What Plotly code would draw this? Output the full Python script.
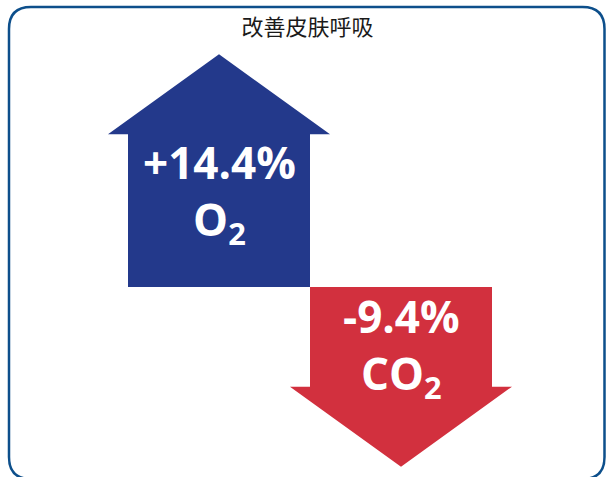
import plotly.graph_objects as go

# Measured change in skin gas exchange
gases = ["O<sub>2</sub>", "CO<sub>2</sub>"]
changes = [14.4, -9.4]
colors = ["#23398B", "#D2303E"]
title_text = "改善皮肤呼吸"

W, H = 606, 477
BASE_PX = 287          # pixel row of the zero line
PX_PER_UNIT_Y = 10.6   # vertical scale
PX_PER_UNIT_X = 182    # spacing between arrow centres
FIRST_CENTER_PX = 219

SHAFT_HALF = 0.5
HEAD_HALF = 0.61
HEAD_LEN = 80 / PX_PER_UNIT_Y
# label block centre, in pixels from the zero line (positive = up)
label_offsets_px = [94, -60]

y_range = [-(H - BASE_PX) / PX_PER_UNIT_Y, BASE_PX / PX_PER_UNIT_Y]
x_range = [-FIRST_CENTER_PX / PX_PER_UNIT_X, (W - FIRST_CENTER_PX) / PX_PER_UNIT_X]

fig = go.Figure()

for i, (gas, v, col) in enumerate(zip(gases, changes, colors)):
    s = 1 if v >= 0 else -1
    c = i
    xs = [c - SHAFT_HALF, c - SHAFT_HALF, c - HEAD_HALF, c, c + HEAD_HALF,
          c + SHAFT_HALF, c + SHAFT_HALF, c - SHAFT_HALF]
    ys = [0, v, v, v + s * HEAD_LEN, v, v, 0, 0]
    fig.add_trace(go.Scatter(
        x=xs, y=ys, mode="lines", fill="toself", fillcolor=col,
        line=dict(width=0, color=col), hoverinfo="skip", showlegend=False,
    ))
    fig.add_annotation(
        x=c, y=label_offsets_px[i] / PX_PER_UNIT_Y, xref="x", yref="y",
        text=f"{v:+.1f}%<br>{gas}", showarrow=False,
        xanchor="center", yanchor="middle", align="center",
        font=dict(family="Open Sans", size=44, color="white", weight="bold"),
    )


def px(xp, yp):
    return f"{xp / W:.5f},{1 - yp / H:.5f}"


# rounded frame around the chart
L, T, R, B, r = 9, 7, 604.5, 479, 22
frame = (
    f"M {px(L + r, T)} L {px(R - r, T)} Q {px(R, T)} {px(R, T + r)} "
    f"L {px(R, B - r)} Q {px(R, B)} {px(R - r, B)} "
    f"L {px(L + r, B)} Q {px(L, B)} {px(L, B - r)} "
    f"L {px(L, T + r)} Q {px(L, T)} {px(L + r, T)} Z"
)
fig.add_shape(type="path", path=frame, xref="paper", yref="paper",
              line=dict(color="#0D4F8B", width=2.5), layer="above")

fig.update_layout(
    width=W, height=H,
    margin=dict(l=0, r=0, t=0, b=0),
    paper_bgcolor="white", plot_bgcolor="white",
    title=dict(text=title_text, x=307.5 / W, y=1 - 27.5 / H,
               xanchor="center", yanchor="middle",
               font=dict(family="Noto Sans CJK SC", size=22, color="#1a1a1a")),
    xaxis=dict(range=x_range, visible=False, fixedrange=True),
    yaxis=dict(range=y_range, visible=False, fixedrange=True),
)

fig.write_html("out.html")
